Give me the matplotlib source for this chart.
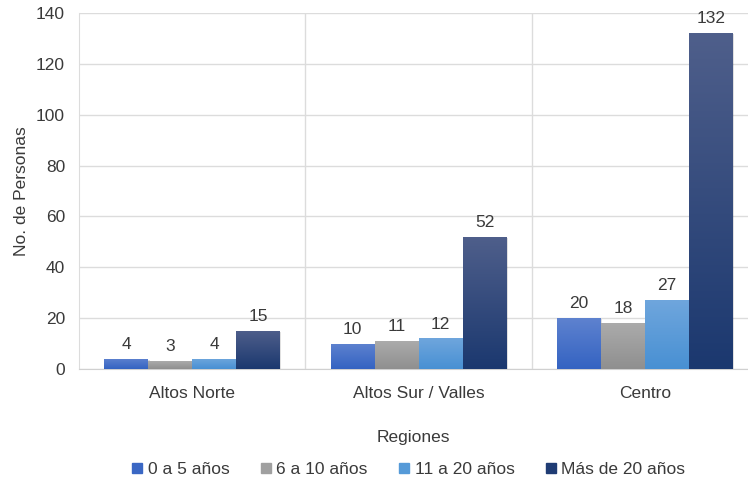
import numpy as np
import matplotlib
matplotlib.use("Agg")
import matplotlib.pyplot as plt
from matplotlib.colors import LinearSegmentedColormap
from matplotlib.lines import Line2D

regiones = ["Altos Norte", "Altos Sur / Valles", "Centro"]
series = ["0 a 5 años", "6 a 10 años", "11 a 20 años", "Más de 20 años"]
a0_5 = [4, 10, 20]
a6_10 = [3, 11, 18]
a11_20 = [4, 12, 27]
mas20 = [15, 52, 132]
valores = [a0_5, a6_10, a11_20, mas20]

# top colour, bottom colour of each gradient
grad = [("#5e82cf", "#3463c2"),
        ("#ababab", "#8f8f8f"),
        ("#6fa6dd", "#4890d3"),
        ("#4f5f8b", "#1b386f")]
legend_col = ["#3a67c4", "#a0a0a0", "#559ad8", "#1f3c74"]

plt.rcParams['font.family'] = ['Liberation Sans', 'DejaVu Sans']
txt = "#3a3a3a"
fs = 12.5

fig = plt.figure(figsize=(7.48, 4.84), dpi=100)
ax = fig.add_axes([79/748, 115/484, 669/748, 356/484])

x = np.arange(len(regiones))
w = 0.194
for i, vals in enumerate(valores):
    pos = x + (i - 1.5) * w
    bars = ax.bar(pos, vals, w, color="none", edgecolor="none", zorder=3)
    cmap = LinearSegmentedColormap.from_list("g%d" % i, [grad[i][1], grad[i][0]])
    for b, v in zip(bars, vals):
        bx, bw = b.get_x(), b.get_width()
        # faint shadow
        ax.bar(bx + bw/2 + 0.006, v, bw, bottom=-0.4, color="#000000", alpha=0.12,
               edgecolor="none", zorder=2)
        im = ax.imshow(np.linspace(0, 1, 256).reshape(-1, 1), cmap=cmap, aspect="auto",
                       origin="lower", extent=[bx, bx + bw, 0, v], zorder=3)
        im.set_clip_path(b)
        ax.annotate(str(v), (bx + bw/2, v), xytext=(0, 5), textcoords="offset points",
                    ha="center", va="bottom", fontsize=fs, color=txt)

ax.set_xlim(-0.5, (748 - 192) / 226.5)
ax.set_ylim(0, 140)
ax.set_yticks(range(0, 141, 20))
ax.set_xticks(x)
ax.set_xticklabels(regiones)
ax.set_xticks([0.5, 1.5], minor=True)
ax.grid(axis="y", color="#dcdcdc", lw=1, zorder=0)
ax.grid(axis="x", which="minor", color="#dcdcdc", lw=1, zorder=0)
ax.tick_params(axis="both", length=0, labelsize=fs, colors=txt)
ax.tick_params(axis="x", pad=12)
ax.tick_params(axis="y", pad=10)
ax.tick_params(axis="x", which="minor", length=0)
for s in ["top", "right"]:
    ax.spines[s].set_visible(False)
ax.spines["left"].set_color("#dcdcdc")
ax.spines["bottom"].set_color("#d0d0d0")
ax.set_xlabel("Regiones", fontsize=fs, color=txt, labelpad=21)
ax.set_ylabel("No. de Personas", fontsize=fs, color=txt, labelpad=5)

handles = [Line2D([], [], marker="s", ls="none", markersize=7, color=c) for c in legend_col]
fig.legend(handles, series, loc="center", bbox_to_anchor=(407/748, 1 - 469/484), ncol=4,
           frameon=False, fontsize=fs, handletextpad=0.1, columnspacing=1.6,
           labelcolor=txt, handlelength=1.0)

fig.savefig("out.png", dpi=100)
